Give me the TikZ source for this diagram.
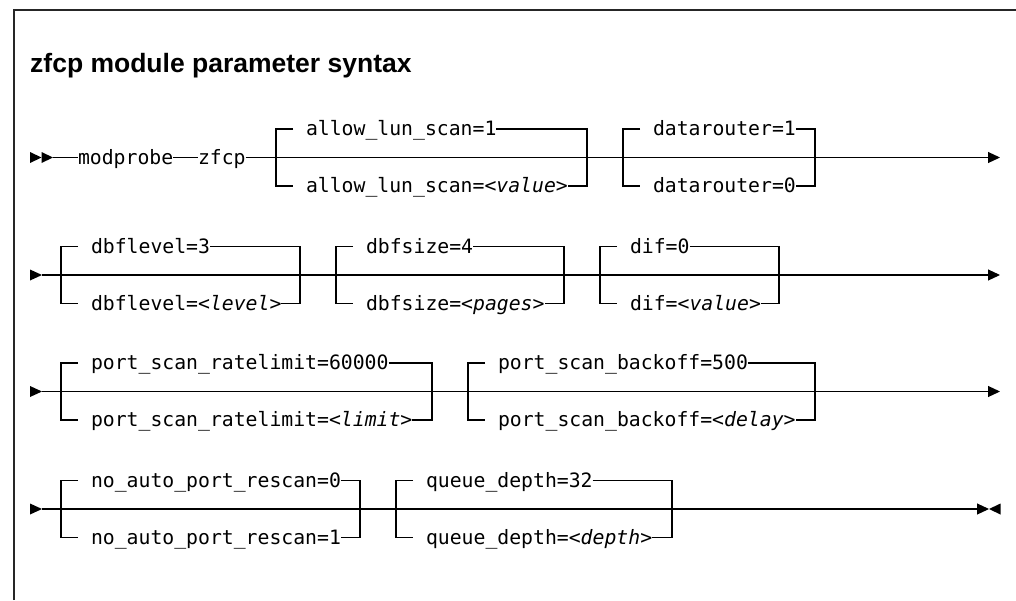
\documentclass[tikz,border=0pt]{standalone}
\usepackage{fontspec}
\setmainfont{Liberation Sans}
\newfontfamily\railmono{DejaVu Sans Mono}
\usetikzlibrary{arrows.meta}
% #1 name, #2 left x, #3 right x, #4 main y, #5 top text, #6 bottom text
\newcommand{\railgroup}[6]{%
  \coordinate (#1-lt) at (#2,#4-28.5);
  \coordinate (#1-lb) at (#2,#4+28.5);
  \coordinate (#1-rt) at (#3,#4-28.5);
  \coordinate (#1-rb) at (#3,#4+28.5);
  \coordinate (#1-tt) at (#2+17,#4-28.5);
  \coordinate (#1-tb) at (#2+17,#4+28.5);
  \node[kw] (#1-t) at (#2+30,#4-28.5) {#5};
  \node[kw] (#1-b) at (#2+30,#4+28.5) {#6};
  \draw[rail] (#1-tt) -- (#1-lt) -- (#1-lb) -- (#1-tb);
  \draw[rail] (#1-t) -- (#1-rt) -- (#1-rb) -- (#1-b);
}
\newcommand{\railstartmark}[2]{%
  \fill (#1,#2-5.5) -- (#1+12,#2) -- (#1,#2+5.5) -- cycle;
}
\begin{document}
\begin{tikzpicture}[x=1pt,y=-1pt,
  rail/.style={line width=1.1pt, draw=black},
  kw/.style={inner sep=0pt, outer sep=0pt, anchor=west, text height=13.4pt, text depth=0pt,
    font=\railmono\fontsize{19.77}{22}\selectfont},
  endtip/.style={-{Triangle[length=12pt,width=11pt]}},
  frame/.style={line width=1.5pt, draw=black!85},
  title/.style={anchor=base west, inner sep=0pt, font=\bfseries\fontsize{26.5}{30}\selectfont}]
\useasboundingbox (0,0) rectangle (1016,600);
\fill[white] (0,0) rectangle (1016,600);
\draw[frame] (14,600) -- (14,10) -- (1016,10);

\node[title] (ttl) at (30,72) {zfcp module parameter syntax};

% ---------- row 1
\fill (30,152) -- (41.5,157.5) -- (30,163) -- cycle;
\fill (41.5,152) -- (53,157.5) -- (41.5,163) -- cycle;
\coordinate (r1s) at (53,157.5);
\node[kw] (modprobe) at (78,157.5) {modprobe};
\node[kw] (zfcp) at (198,157.5) {zfcp};
\coordinate (r1e) at (1000,157.5);
\draw[rail] (r1s) -- (modprobe);
\draw[rail] (modprobe) -- (zfcp);
\draw[rail,endtip] (zfcp) -- (r1e);
\railgroup{lun}{276}{587}{157.5}{allow\_lun\_scan=1}{allow\_lun\_scan=<\textit{value}>}
\railgroup{dr}{623}{815}{157.5}{datarouter=1}{datarouter=0}

% ---------- row 2
\railstartmark{30}{275}
\coordinate (r2s) at (42,275);
\coordinate (r2e) at (1000,275);
\draw[rail,endtip] (r2s) -- (r2e);
\railgroup{dbfl}{61}{300}{275}{dbflevel=3}{dbflevel=<\textit{level}>}
\railgroup{dbfs}{336}{564}{275}{dbfsize=4}{dbfsize=<\textit{pages}>}
\railgroup{dif}{600}{779}{275}{dif=0}{dif=<\textit{value}>}

% ---------- row 3
\railstartmark{30}{391.5}
\coordinate (r3s) at (42,391.5);
\coordinate (r3e) at (1000,391.5);
\draw[rail,endtip] (r3s) -- (r3e);
\railgroup{psr}{61}{432}{391.5}{port\_scan\_ratelimit=60000}{port\_scan\_ratelimit=<\textit{limit}>}
\railgroup{psb}{468}{815}{391.5}{port\_scan\_backoff=500}{port\_scan\_backoff=<\textit{delay}>}

% ---------- row 4
\railstartmark{30}{509}
\coordinate (r4s) at (42,509);
\coordinate (r4e) at (989,509);
\draw[rail,endtip] (r4s) -- (r4e);
\fill (1000.5,503.5) -- (989,509) -- (1000.5,514.5) -- cycle;
\railgroup{nap}{61}{360}{509}{no\_auto\_port\_rescan=0}{no\_auto\_port\_rescan=1}
\railgroup{qd}{396}{672}{509}{queue\_depth=32}{queue\_depth=<\textit{depth}>}
\end{tikzpicture}
\end{document}
